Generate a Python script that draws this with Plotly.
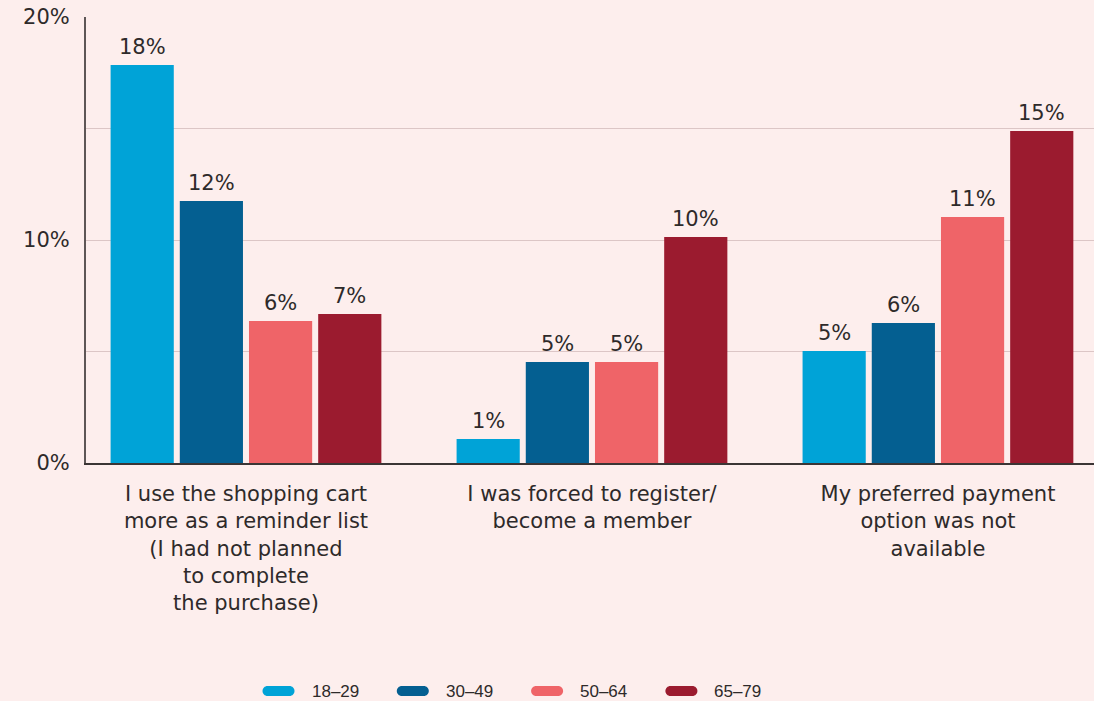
import plotly.graph_objects as go

categories = [
    "I use the shopping cart<br>more as a reminder list<br>(I had not planned<br>to complete<br>the purchase)",
    "I was forced to register/<br>become a member",
    "My preferred payment<br>option was not<br>available",
]
age_groups = ["18–29", "30–49", "50–64", "65–79"]
values = {
    "18–29": [17.85, 1.08, 5.02],
    "30–49": [11.75, 4.53, 6.28],
    "50–64": [6.37, 4.53, 11.03],
    "65–79": [6.68, 10.13, 14.89],
}
colors = ["#00a3d7", "#045f91", "#ef6468", "#9b1b2f"]
y_tickvals = [0, 5, 10, 15, 20]
y_ticktext = ["0%", "", "10%", "", "20%"]

FONT = "DejaVu Sans"
FS = 21
TEXT = "#2e2a2a"
BG = "#fdeeed"
BARGAP = 0.2
GROUPGAP = 0.087

W, H = 1094, 701
ML, MR, MT, MB = 86, 0, 17, 238
PW, PH = W - ML - MR, H - MT - MB


def px_to_paper(px, py):
    return (px - ML) / PW, (H - MB - py) / PH


xs = list(range(len(categories)))
fig = go.Figure()
annotations = []
shapes = []
n = len(age_groups)
slot = (1 - BARGAP) / n
for i, (grp, col) in enumerate(zip(age_groups, colors)):
    fig.add_trace(go.Bar(
        x=xs, y=values[grp], name=grp, marker_color=col,
        marker_line_width=0, showlegend=False,
    ))
    for j, v in enumerate(values[grp]):
        annotations.append(dict(
            x=j + (i - (n - 1) / 2) * slot, y=v, xref="x", yref="y",
            text=f"{round(v)}%", showarrow=False, yanchor="bottom",
            yshift=4, font=dict(family=FONT, size=FS, color=TEXT),
        ))

# legend row: rounded swatch + label for each age group
pill = ("M-11,-5 H11 C13.76,-5 16,-2.76 16,0 C16,2.76 13.76,5 11,5 "
        "H-11 C-13.76,5 -16,2.76 -16,0 C-16,-2.76 -13.76,-5 -11,-5 Z")
for i, (grp, col) in enumerate(zip(age_groups, colors)):
    cx = 278.5 + i * 134.3
    ax, ay = px_to_paper(cx, 691)
    shapes.append(dict(
        type="path", xref="paper", yref="paper",
        xsizemode="pixel", ysizemode="pixel", xanchor=ax, yanchor=ay,
        path=pill, fillcolor=col, line_width=0, layer="above",
    ))
    tx, ty = px_to_paper(cx + 31, 691)
    annotations.append(dict(
        x=tx, y=ty, xref="paper", yref="paper", text=grp, showarrow=False,
        xanchor="left", yanchor="middle",
        font=dict(family="Liberation Sans", size=17, color=TEXT),
    ))

fig.update_layout(
    width=W, height=H,
    paper_bgcolor=BG, plot_bgcolor=BG,
    margin=dict(l=ML, r=MR, t=MT, b=MB),
    barmode="group", bargap=BARGAP, bargroupgap=GROUPGAP,
    font=dict(family=FONT, size=FS, color=TEXT),
    annotations=annotations, shapes=shapes, showlegend=False,
)
fig.update_xaxes(
    range=[-0.4624, 2.451], tickvals=xs, ticktext=categories,
    showline=True, linecolor="#3b3535", linewidth=1.5,
    showgrid=False, zeroline=False, ticks="", ticklabelstandoff=11,
    tickfont=dict(family=FONT, size=FS, color=TEXT),
)
fig.update_yaxes(
    range=[0, 20], tickvals=y_tickvals, ticktext=y_ticktext,
    showgrid=True, gridcolor="#dcc6c6", gridwidth=1,
    showline=True, linecolor="#5e5656", linewidth=2,
    zeroline=False, ticks="", ticklabelstandoff=10,
    tickfont=dict(family=FONT, size=FS, color=TEXT),
)

fig.write_html("out.html")
